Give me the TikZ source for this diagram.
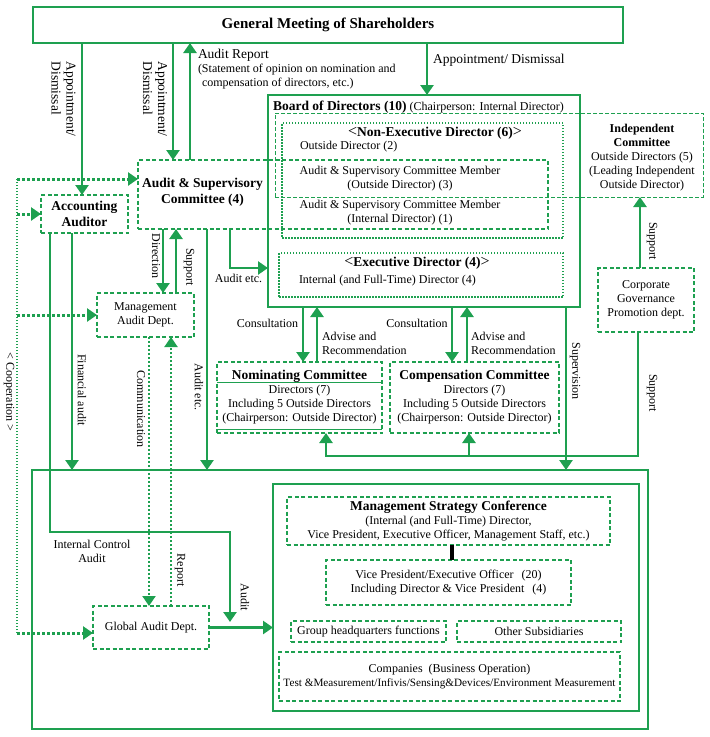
\documentclass[tikz,border=0pt]{standalone}
\usepackage{fontspec}
\setmainfont{Liberation Serif}
\usepackage{xcolor}
\usetikzlibrary{arrows.meta,positioning}
\definecolor{grn}{RGB}{30,160,80}
\newcommand{\lang}{{\mdseries\fontsize{16}{16}\selectfont<}}
\newcommand{\rang}{{\mdseries\fontsize{16}{16}\selectfont>}}

\begin{document}
\begin{tikzpicture}[x=1pt, y=-1pt, >={Triangle[width=13pt,length=10pt]},
    font=\fontsize{12}{14}\selectfont,
    every node/.style={inner sep=0pt, outer sep=0pt, align=center},
    solidbox/.style={draw=grn, line width=2.2pt},
    dashbox/.style={draw=grn, line width=1.8pt, dash pattern=on 4pt off 2.5pt},
    dotbox/.style={draw=grn, line width=1.5pt, dash pattern=on 1.5pt off 1.5pt},
    thinbox/.style={draw=grn, line width=1pt, dash pattern=on 4pt off 2pt},
    ttl/.style={font=\fontsize{13.5}{16}\selectfont\bfseries},
    big/.style={font=\fontsize{13.5}{15}\selectfont},
    vlab/.style={rotate=-90},
    link/.style={draw=grn, line width=2.5pt},
    dotlink/.style={draw=grn, line width=2pt, dash pattern=on 2pt off 2pt},
    cooplink/.style={draw=grn, line width=1.5pt, dash pattern=on 1.5pt off 1.5pt},
    coopbranch/.style={draw=grn, line width=3pt, dash pattern=on 3pt off 2pt}]
    \useasboundingbox (0,0) rectangle (710,737);

    \node (gm) [solidbox, minimum width=590pt, minimum height=36pt, font=\fontsize{15}{17}\selectfont\bfseries] at (328,25) {General Meeting of Shareholders};
    \node (board) [solidbox, minimum width=312pt, minimum height=212pt] at (424,201) {};
    \node (indep) [thinbox, minimum width=428pt, minimum height=84pt] at (489,155) {};
    \node (nonexec) [dotbox, minimum width=281pt, minimum height=115pt] at (422.5,180.5) {};
    \node (asc) [dashbox, minimum width=410pt, minimum height=69pt] at (343,194.5) {};
    \node (exec) [dotbox, minimum width=284pt, minimum height=44pt] at (421,275) {};
    \node (acct) [dashbox, ttl, minimum width=87pt, minimum height=38pt] at (84.5,214) {Accounting\\Auditor};
    \node (cgp) [dashbox, minimum width=96pt, minimum height=64pt] at (646,300) {Corporate\\Governance\\Promotion dept.};
    \node (mad) [dashbox, minimum width=97pt, minimum height=44pt] at (145.5,315) {Management\\Audit Dept.};
    \node (nom) [dashbox, minimum width=165pt, minimum height=71pt] at (299.5,397.5) {{\fontsize{13.5}{15}\selectfont\bfseries Nominating Committee}\\Directors (7)\\Including 5 Outside Directors\\(Chairperson: Outside Director)};
    \node (comp) [dashbox, right=8pt of nom, minimum width=169pt, minimum height=71pt] {{\fontsize{13.5}{15}\selectfont\bfseries Compensation Committee}\\Directors (7)\\Including 5 Outside Directors\\(Chairperson: Outside Director)};
    \node (ops) [solidbox, minimum width=616pt, minimum height=259pt] at (340,599.5) {};
    \node (grp) [solidbox, minimum width=366pt, minimum height=227pt] at (456,597.5) {};
    \node (msc) [dashbox, minimum width=323pt, minimum height=48pt] at (448.5,521) {{\fontsize{13.5}{14}\selectfont\bfseries Management Strategy Conference}\\(Internal (and Full-Time) Director,\\Vice President, Executive Officer, Management Staff, etc.)};
    \node (vp) [dashbox, below=15pt of msc, minimum width=245pt, minimum height=45pt] {Vice President/Executive Officer\hspace{8pt}(20)\\Including Director \& Vice President\hspace{8pt}(4)};
    \node (hq) [dashbox, minimum width=155pt, minimum height=21pt] at (368.5,631.5) {Group headquarters functions};
    \node (oth) [dashbox, right=11pt of hq, minimum width=164pt, minimum height=21pt] {Other Subsidiaries};
    \node (cos) [dashbox, minimum width=341pt, minimum height=49pt] at (449.5,676.5) {Companies\enspace(Business Operation)\\{\fontsize{11.2}{14}\selectfont Test \&Measurement/Infivis/Sensing\&Devices/Environment Measurement}};
    \node (gad) [dashbox, minimum width=116pt, minimum height=43pt] at (151,627.5) {Global Audit Dept.};

    \node (bdttl) [anchor=west] at (273,107) {{\fontsize{13.5}{16}\selectfont\bfseries Board of Directors (10)} (Chairperson: Internal Director)};
    \node (nexttl) [ttl] at (435,133) {\lang Non-Executive Director (6)\rang};
    \node (outdir) [anchor=west] at (300,147) {Outside Director (2)};
    \node (ascttl) [ttl] at (202.5,192.5) {Audit \& Supervisory\\Committee (4)};
    \node (ascout) at (400,179) {Audit \& Supervisory Committee Member\\(Outside Director) (3)};
    \node (ascin) at (400,212.5) {Audit \& Supervisory Committee Member\\(Internal Director) (1)};
    \node (indtxt) at (642,157.5) {\textbf{Independent}\\\textbf{Committee}\\Outside Directors (5)\\(Leading Independent\\Outside Director)};
    \node (exttl) [ttl] at (417,263) {\lang Executive Director (4)\rang};
    \node (extxt) [anchor=west] at (299,281) {Internal (and Full-Time) Director (4)};

    \node (lbapp1) [vlab, big, align=left] at (63.5,99) {Appointment/\\Dismissal};
    \node (lbapp2) [vlab, big, align=left] at (155,99) {Appointment/\\Dismissal};
    \node (lbrep) [anchor=north west, align=left] at (198,49) {{\fontsize{13.5}{14}\selectfont Audit Report}\\(Statement of opinion on nomination and\\\hspace{4pt}compensation of directors, etc.)};
    \node (lbapp3) [big, anchor=west] at (433,60) {Appointment/ Dismissal};
    \node (lbcg) [vlab] at (652,241) {Support};
    \node (lbdir) [vlab] at (156,256) {Direction};
    \node (lbsup) [vlab] at (189,267) {Support};
    \node (lbaud) at (238.5,278) {Audit etc.};
    \node (lbaud2) [vlab] at (199,387) {Audit etc.};
    \node (lbfin) [vlab] at (82,390) {Financial audit};
    \node (lbcom) [vlab] at (141,409) {Communication};
    \node (lbrpt) [vlab] at (180,570) {Report};
    \node (lbica) at (92,551.5) {Internal Control\\Audit};
    \node (lbaud3) [vlab] at (245,597) {Audit};
    \node (lbcoop) [vlab] at (9,392) {< Cooperation >};
    \node (lbcon1) at (267.5,323) {Consultation};
    \node (lbadv1) [anchor=west, align=left] at (322,343) {Advise and\\Recommendation};
    \node (lbcon2) at (417,323) {Consultation};
    \node (lbadv2) [anchor=west, align=left] at (471,343) {Advise and\\Recommendation};
    \node (lbsv) [vlab] at (575,371) {Supervision};
    \node (lbsp2) [vlab] at (652,393) {Support};

    \coordinate (coop) at (17,179);
    \coordinate (icaend) at (230,622);

    \draw [grn, line width=0.8pt] ([yshift=-20pt]nom.north west) -- ([yshift=-20pt]nom.north east);
    \draw [grn, line width=0.8pt] ([yshift=4pt]nom.south west) -- ([yshift=4pt]nom.south east);

    \draw [link,->] (82,0 |- gm.south) -- (82,0 |- acct.north);
    \draw [link,->] (173,0 |- gm.south) -- (173,0 |- asc.north);
    \draw [link,->] (190,0 |- asc.north) -- (190,0 |- gm.south);
    \draw [link,->] (427,0 |- gm.south) -- (427,0 |- board.north);
    \draw [link,->] (640,0 |- cgp.north) -- (640,0 |- indep.south);
    \draw [link,->] (163,0 |- asc.south) -- (163,0 |- mad.north);
    \draw [link,->] (176,0 |- mad.north) -- (176,0 |- asc.south);
    \draw [link,->] (230,0 |- asc.south) |- (board.west |- 0,268);
    \draw [link,->] (207,0 |- asc.south) -- (207,0 |- ops.north);
    \draw [link,->] (72,0 |- acct.south) -- (72,0 |- ops.north);
    \draw [link,->] (50,0 |- acct.south) |- (230,532) -- (icaend);
    \draw [link,->] (gad.east) -- (grp.west |- gad.east);
    \draw [dotlink,->] (149,0 |- mad.south) -- (149,0 |- gad.north);
    \draw [dotlink,->] (171,0 |- gad.north) -- (171,0 |- mad.south);

    \draw [cooplink] (coop |- 0,633) -- (coop);
    \draw [coopbranch,->] (coop) -- (asc.west |- coop);
    \draw [coopbranch,->] (coop |- acct.west) -- (acct.west);
    \draw [coopbranch,->] (coop |- mad.west) -- (mad.west);
    \draw [coopbranch,->] (coop |- 0,633) -- (gad.west |- 0,633);

    \draw [link,->] (303,0 |- board.south) -- (303,0 |- nom.north);
    \draw [link,->] (317,0 |- nom.north) -- (317,0 |- board.south);
    \draw [link,->] (452,0 |- board.south) -- (452,0 |- comp.north);
    \draw [link,->] (467,0 |- comp.north) -- (467,0 |- board.south);
    \draw [link,->] (566,0 |- board.south) -- (566,0 |- ops.north);
    \draw [link,->] (638,0 |- cgp.south) |- (326,456) -- (326,0 |- nom.south);
    \draw [link,->] (469,456) -- (469,0 |- comp.south);
    \draw [line width=4pt] (452,0 |- msc.south) -- (452,0 |- vp.north);
\end{tikzpicture}
\end{document}
